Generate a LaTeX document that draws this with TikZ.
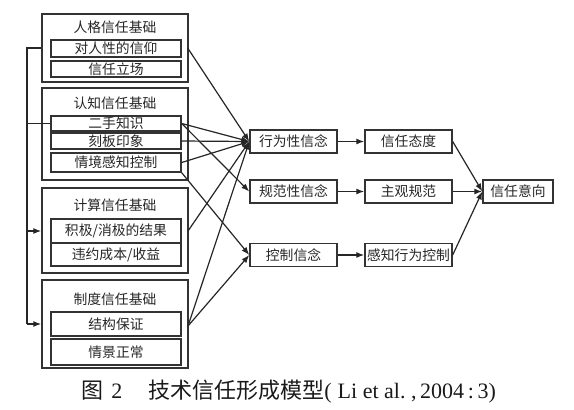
\documentclass[tikz,border=0pt]{standalone}
\usepackage{fontspec}
\setmainfont{Liberation Serif}
\newfontfamily\cjk{Noto Sans CJK SC}
\usetikzlibrary{arrows.meta}
\begin{document}
\begin{tikzpicture}[x=1pt,y=-1pt,
  outerbox/.style={draw=black!80,line width=1.5pt,inner sep=0pt},
  innerbox/.style={draw=black!80,line width=1.4pt,inner sep=0pt,minimum width=130pt,font=\cjk\fontsize{13.8}{13.8}\selectfont,text=black!85},
  title/.style={inner sep=0pt,font=\cjk\fontsize{13.8}{13.8}\selectfont,text=black!85},
  midbox/.style={draw=black!80,line width=1.4pt,inner sep=0pt,minimum width=87pt,minimum height=23pt,font=\cjk\fontsize{13.8}{13.8}\selectfont,text=black!85},
  conn/.style={line width=1.2pt,draw=black!85,-{Latex[length=8pt,width=6pt]}},
  plain/.style={line width=1.2pt,draw=black!85}]
\useasboundingbox (0,0) rectangle (574,410);
% outer boxes
\node[outerbox,minimum width=146pt,minimum height=68pt] (pg) at (115,48) {};
\node[outerbox,minimum width=146pt,minimum height=92pt] (rz) at (115,134) {};
\node[outerbox,minimum width=146pt,minimum height=85pt] (js) at (115,230.5) {};
\node[outerbox,minimum width=146pt,minimum height=88pt] (zd) at (115,324) {};
% titles
\node[title] (pgt) at (115,27) {人格信任基础};
\node[title] (rzt) at (115,103) {认知信任基础};
\node[title] (jst) at (115,205) {计算信任基础};
\node[title] (zdt) at (115,299) {制度信任基础};
% inner items
\node[innerbox,minimum height=17pt] (p1) at (116,48.5) {对人性的信仰};
\node[innerbox,minimum height=16pt] (p2) at (116,69) {信任立场};
\node[innerbox,minimum height=15pt] (r1) at (116,123.5) {二手知识};
\node[innerbox,minimum height=16pt] (r2) at (116,141) {刻板印象};
\node[innerbox,minimum height=19pt] (r3) at (116,162.5) {情境感知控制};
\node[innerbox,minimum height=24pt] (j1) at (116,231) {积极/消极的结果};
\node[innerbox,minimum height=23pt] (j2) at (116,254.5) {违约成本/收益};
\node[innerbox,minimum height=24pt] (z1) at (116,324) {结构保证};
\node[innerbox,minimum height=26pt] (z2) at (116,352) {情景正常};
% middle column
\node[midbox] (xw) at (293.5,141.5) {行为性信念};
\node[midbox] (gf) at (293.5,191.5) {规范性信念};
\node[midbox] (kz) at (293.5,255) {控制信念};
\node[midbox] (td) at (408.5,141.5) {信任态度};
\node[midbox] (zg) at (408.5,191.5) {主观规范};
\node[midbox] (gz) at (408.5,255) {感知行为控制};
\node[midbox,minimum width=70pt] (yx) at (518,191.5) {信任意向};
% left connector
\coordinate (lt) at (27,48);
\coordinate (lm) at (27,123.5);
\coordinate (l3) at (27,231);
\coordinate (l4) at (27,324);
\draw[plain] (pg.west |- lt) -- (lt) -- (l4);
\draw[plain] (lm) -- (r1.west);
\draw[conn] (l3) -- (js.west |- l3);
\draw[conn] (l4) -- (zd.west |- l4);
% to middle column
\coordinate (p1r) at (188,48.5);
\coordinate (j1r) at (188,231);
\coordinate (z1r) at (188,326);
\draw[conn] (p1r) -- (xw.west);
\draw[conn] (r1.east) -- (xw.west);
\draw[conn] (r1.east) -- (gf.west);
\draw[conn] (r2.east) -- (xw.west);
\draw[conn] (r3.east) -- (xw.west);
\draw[conn] (r3.south east) -- (kz.west);
\draw[conn] (j1r) -- (xw.west);
\draw[conn] (z1r) -- (xw.west);
\draw[conn] (z1r) -- (kz.west);
% middle to right
\draw[conn] (xw) -- (td);
\draw[conn] (gf) -- (zg);
\draw[conn] (kz) -- (gz);
\draw[conn] (td.east) -- (yx.west);
\draw[conn] (zg.east) -- (yx.west);
\draw[conn] (gz.east) -- (yx.west);
% caption
\node[inner sep=0pt,font=\fontsize{22}{22}\selectfont,text=black!90] (cap) at (289,392) {{\cjk 图}\,\,2\hspace{26pt}{\cjk 技术信任形成模型}(\;Li et al.\ ,\,2004\,:\,3)};
\end{tikzpicture}
\end{document}
